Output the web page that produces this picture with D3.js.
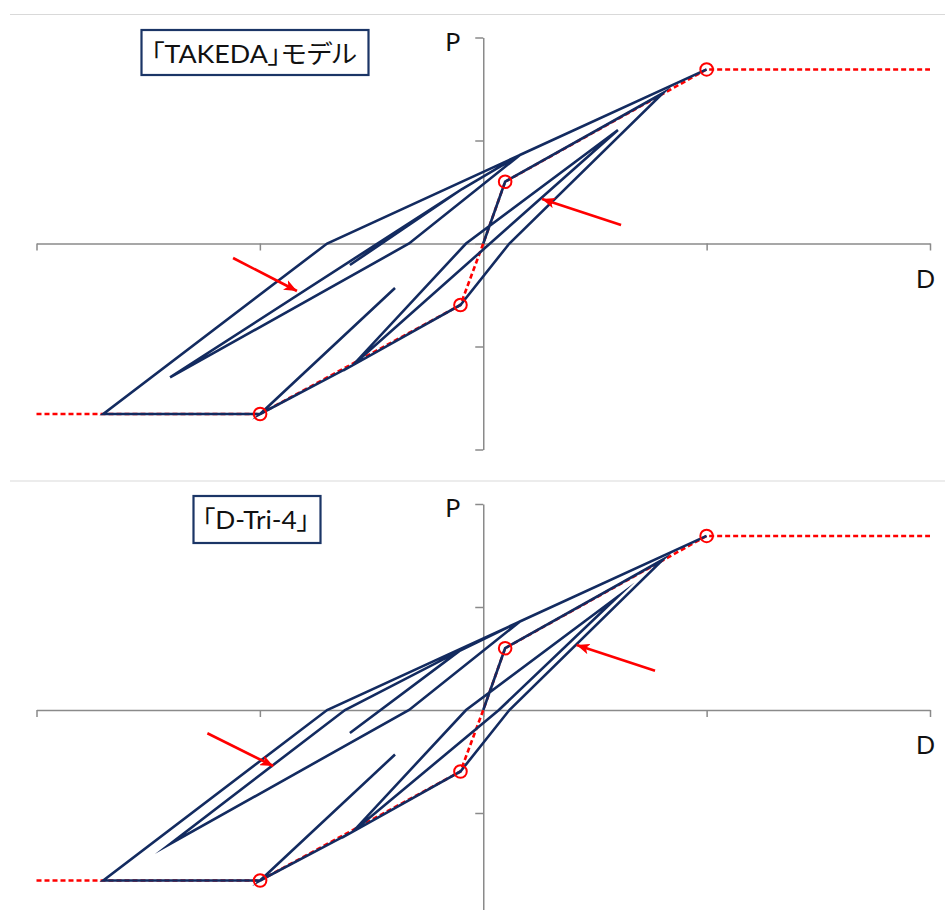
<!DOCTYPE html>
<html>
<head>
<meta charset="utf-8">
<script src="https://cdn.jsdelivr.net/npm/d3@7"></script>
<style>
  html, body { margin: 0; padding: 0; background: #ffffff; }
  svg { display: block; }
  .title { font-feature-settings: "palt"; }
</style>
</head>
<body>
<svg id="chart" width="945" height="910"></svg>
<script>
// Panel titles
const panelTitles = ["「TAKEDA」モデル", "「D-Tri-4」"];

// Axis ticks (displacement D, force P)
const xTicks = [-2, -1, 0, 1, 2];
const yTicks = [-2, -1, 0, 1, 2];

// Trilinear skeleton curve
const skeletonD = [-2.0, -0.999, -0.102, 0, 0.098, 1.0, 2.0];
const skeletonP = [-1.655, -1.655, -0.597, 0, 0.60, 1.69, 1.69];

// Crack / yield points marked with circles
const markerD = [1.0, 0.098, -0.102, -0.999];
const markerP = [1.69, 0.60, -0.597, -1.655];

// Hysteresis path, TAKEDA model
const takedaD = [0, 0.098, 0.805, 0.117, -0.102, -0.583, 0.603, -0.077, -0.583, -0.999, -0.395, -0.999, -1.701, -0.699, 0.164, -0.332, -1.402, -0.095, -0.597, -0.095, 0.164, 1.0];
const takedaP = [0, 0.60, 1.461, 0, -0.597, -1.180, 1.102, 0, -1.180, -1.655, -0.432, -1.655, -1.655, 0, 0.859, 0, -1.300, 0.529, -0.209, 0.529, 0.859, 1.69];

// Hysteresis path, D-Tri-4 model
const dtriD = [0, 0.098, 0.805, 0.117, -0.102, -0.583, 0.070, 0.603, -0.077, -0.583, -0.999, -0.395, -0.999, -1.701, -0.699, 0.164, -0.332, -1.402, -0.619, -0.108, -0.597, -0.108, 0.164, 1.0];
const dtriP = [0, 0.60, 1.461, 0, -0.597, -1.180, 0, 1.102, 0, -1.180, -1.655, -0.432, -1.655, -1.655, 0, 0.859, 0, -1.300, 0, 0.571, -0.223, 0.571, 0.859, 1.69];

// Annotation arrows [fromD, fromP, toD, toP]
const takedaArrows = [[-1.120, -0.141, -0.834, -0.461], [0.617, 0.180, 0.263, 0.432]];
const dtriArrows = [[-1.235, -0.226, -0.940, -0.544], [0.769, 0.382, 0.418, 0.631]];

const panelPaths = [[takedaD, takedaP], [dtriD, dtriP]];
const panelArrows = [takedaArrows, dtriArrows];

const svg = d3.select("#chart");
const W = 945;
const NAVY = "#132b60";
const RED = "#ff0000";
const AXIS = "#8a8a8a";
const LATIN = "Lato, Carlito, 'Open Sans', sans-serif";

const defs = svg.append("defs");
defs.append("marker")
  .attr("id", "arrowhead")
  .attr("markerUnits", "userSpaceOnUse")
  .attr("viewBox", "0 0 12 10")
  .attr("refX", 12).attr("refY", 5)
  .attr("markerWidth", 13).attr("markerHeight", 11)
  .attr("orient", "auto")
  .append("path")
  .attr("d", "M0,0 L12,5 L0,10 L3,5 Z")
  .attr("fill", RED);

const panelTop = [0, 466.5];

panelTop.forEach((oy, i) => {
  const g = svg.append("g").attr("class", "panel");

  // separator rule above each panel
  g.append("line")
    .attr("x1", 10).attr("x2", W)
    .attr("y1", 14.5 + oy).attr("y2", 14.5 + oy)
    .attr("stroke", "#d9d9d9").attr("stroke-width", 1.2);

  const x = d3.scaleLinear().domain([-2, 2]).range([36.5, 930]);
  const y = d3.scaleLinear().domain([-2, 2]).range([449.5 + oy, 37.5 + oy]);

  // axes crossing at the origin
  const xAxis = d3.axisBottom(x).tickValues(xTicks).tickSize(7).tickSizeOuter(0).tickFormat("");
  const yAxis = d3.axisLeft(y).tickValues(yTicks).tickSize(8).tickSizeOuter(0).tickFormat("");
  const gx = g.append("g").attr("transform", `translate(0,${y(0)})`).call(xAxis);
  const gy = g.append("g").attr("transform", `translate(${x(0)},0)`).call(yAxis);
  [gx, gy].forEach(a => {
    a.selectAll("path.domain").attr("stroke", AXIS).attr("stroke-width", 1.5);
    a.selectAll(".tick line").attr("stroke", AXIS).attr("stroke-width", 1.5);
  });

  g.append("text")
    .attr("x", x(0) - 38).attr("y", y(2) + 13)
    .attr("font-family", LATIN)
    .attr("font-size", 25).attr("fill", "#111")
    .text("P");
  g.append("text")
    .attr("x", x(2) - 14).attr("y", y(0) + 44)
    .attr("font-family", LATIN)
    .attr("font-size", 25).attr("fill", "#111")
    .text("D");

  const line = d3.line().x(d => x(d[0])).y(d => y(d[1]));

  // skeleton curve (dashed)
  g.append("path")
    .datum(skeletonD.map((d, k) => [d, skeletonP[k]]))
    .attr("d", line)
    .attr("fill", "none").attr("stroke", RED)
    .attr("stroke-width", 2.6).attr("stroke-dasharray", "5,3");

  // hysteresis path
  const [pd, pp] = panelPaths[i];
  g.append("path")
    .datum(pd.map((d, k) => [d, pp[k]]))
    .attr("d", line)
    .attr("fill", "none").attr("stroke", NAVY)
    .attr("stroke-width", 2.6).attr("stroke-linejoin", "miter").attr("stroke-miterlimit", 20);

  // crack / yield markers
  g.selectAll("circle.mk")
    .data(markerD.map((d, k) => [d, markerP[k]]))
    .join("circle")
    .attr("class", "mk")
    .attr("cx", d => x(d[0])).attr("cy", d => y(d[1]))
    .attr("r", 6.3)
    .attr("fill", "none").attr("stroke", RED).attr("stroke-width", 2);

  // annotation arrows
  g.selectAll("line.arrow")
    .data(panelArrows[i])
    .join("line")
    .attr("class", "arrow")
    .attr("x1", d => x(d[0])).attr("y1", d => y(d[1]))
    .attr("x2", d => x(d[2])).attr("y2", d => y(d[3]))
    .attr("stroke", RED).attr("stroke-width", 2.6)
    .attr("marker-end", "url(#arrowhead)");

  // title box
  const boxes = [[141.5, 30, 227, 45], [193.5, 496 - oy, 127, 47]];
  const [bx, by, bw, bh] = boxes[i];
  g.append("rect")
    .attr("x", bx).attr("y", by + oy).attr("width", bw).attr("height", bh)
    .attr("fill", "#fff").attr("stroke", "#1b3566").attr("stroke-width", 2.2);
  const textW = [206, 108];
  const textX = [151, 202];
  g.append("text")
    .attr("class", "title")
    .attr("x", textX[i]).attr("y", by + oy + 33)
    .attr("font-family", LATIN + ", 'Noto Sans CJK JP'")
    .attr("font-size", 25).attr("fill", "#111")
    .attr("textLength", textW[i]).attr("lengthAdjust", "spacingAndGlyphs")
    .text(panelTitles[i]);
});
</script>
</body>
</html>
